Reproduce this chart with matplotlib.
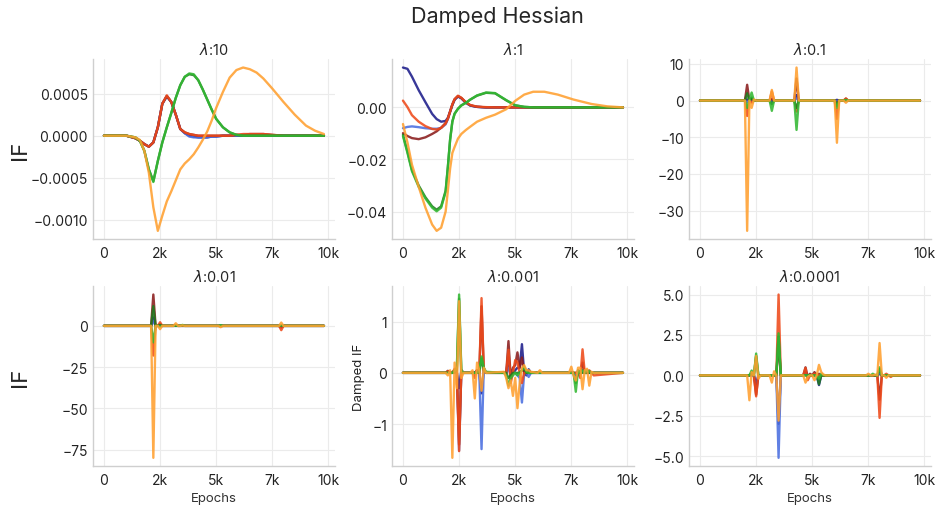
import matplotlib
matplotlib.use('Agg')
import matplotlib.pyplot as plt
from matplotlib.ticker import FuncFormatter
import seaborn as sns

sns.set_style('whitegrid')
plt.rcParams['font.family'] = ['Inter', 'DejaVu Sans']

# one colour per tracked sample, drawn in this order
line_colors = ['#1c1c8a', '#4a6ee0', '#8a1c1c', '#ee4a1a', '#1f7a1f', '#33b833', '#ffa030']

# ---- lambda = 10 ----
ep_10 = [0, 1000, 1400, 1600, 1800, 2000, 2200, 2400, 2600, 2800, 3000, 3200, 3400, 3600, 3800, 4000, 4200,
         4400, 4600, 4800, 5000, 5300, 5600, 5900, 6200, 6500, 6800, 7100, 7500, 8000, 8500, 9000, 9400, 9800]
if_10 = [
    [0, 0, -0.00003, -0.00006, -0.0001, -0.00013, -0.00008, 0.0001, 0.00038, 0.00047, 0.0004, 0.00025, 0.00008,
     0.00003, 0.0, -0.00001, -0.00002, -0.00002, -0.00002, -0.00001, -0.00001, 0, 0, 0, 0, 0, 0, 0, 0, 0, 0, 0, 0, 0],
    [0, 0, -0.00003, -0.00006, -0.0001, -0.00013, -0.00008, 0.0001, 0.00038, 0.00047, 0.0004, 0.00025, 0.00008,
     0.00003, -0.00001, -0.00002, -0.00002, -0.00002, -0.00002, -0.00001, -0.00001, 0, 0, 0, 0, 0, 0, 0, 0, 0, 0, 0, 0, 0],
    [0, 0, -0.00003, -0.00006, -0.0001, -0.00013, -0.00008, 0.0001, 0.00038, 0.00047, 0.0004, 0.00025, 0.00008,
     0.00004, 0.00002, 0.00001, 0, 0, 0, 0, 0, 0, 0, 0.00001, 0.00001, 0.00002, 0.00002, 0.00002, 0.00001, 0, 0, 0, 0, 0],
    [0, 0, -0.00003, -0.00006, -0.0001, -0.00013, -0.00008, 0.0001, 0.00038, 0.00048, 0.0004, 0.00025, 0.00008,
     0.00004, 0.00002, 0.00001, 0, 0, 0, 0, 0, 0, 0, 0.00001, 0.00002, 0.00002, 0.00002, 0.00002, 0.00001, 0, 0, 0, 0, 0],
    [0, 0, -0.00002, -0.00006, -0.00018, -0.0004, -0.00054, -0.0003, -0.00008, 0.0001, 0.00027, 0.00045, 0.0006,
     0.0007, 0.00073, 0.00072, 0.00066, 0.00055, 0.00043, 0.00031, 0.0002, 0.0001, 0.00004, 0.00001, 0, 0, 0, 0, 0, 0, 0, 0, 0, 0],
    [0, 0, -0.00002, -0.00006, -0.00018, -0.0004, -0.00055, -0.0003, -0.00008, 0.0001, 0.00027, 0.00045, 0.0006,
     0.0007, 0.00074, 0.00073, 0.00066, 0.00055, 0.00043, 0.00031, 0.0002, 0.0001, 0.00004, 0.00001, 0, 0, 0, 0, 0, 0, 0, 0, 0, 0],
    [0, 0, -0.00002, -0.00005, -0.00018, -0.00044, -0.00085, -0.00113, -0.00095, -0.00078, -0.00066, -0.00053, -0.0004,
     -0.00033, -0.00028, -0.00022, -0.00014, -0.00005, 0.00005, 0.00018, 0.00033, 0.00052, 0.00069, 0.00078, 0.00081,
     0.00079, 0.00075, 0.00068, 0.00056, 0.0004, 0.00025, 0.00012, 0.00006, 0.00002],
]

# ---- lambda = 1 ----
ep_1 = [0, 200, 400, 700, 1000, 1300, 1500, 1700, 1900, 2000, 2100, 2200, 2300, 2450, 2600, 2800, 3000, 3300,
        3700, 4100, 4600, 5000, 5400, 5800, 6300, 6900, 7600, 8400, 9100, 9800]
if_1 = [
    [0.0153, 0.0148, 0.0118, 0.0066, 0.002, -0.0025, -0.0045, -0.0055, -0.0052, -0.004, -0.0016, 0.001, 0.003,
     0.0042, 0.0035, 0.0018, 0.0007, 0.0002, 0, 0, 0, 0, 0, 0, 0, 0, 0, 0, 0, 0],
    [-0.008, -0.0075, -0.0073, -0.0076, -0.008, -0.0082, -0.0082, -0.0079, -0.0065, -0.0045, -0.0017, 0.001, 0.003,
     0.0042, 0.0035, 0.0018, 0.0007, 0.0002, 0, 0, 0, 0, 0, 0, 0, 0, 0, 0, 0, 0],
    [-0.0099, -0.011, -0.0118, -0.0122, -0.0115, -0.0102, -0.0092, -0.0078, -0.006, -0.0043, -0.0016, 0.001, 0.003,
     0.0043, 0.0036, 0.0019, 0.0008, 0.0002, 0, 0, 0, 0, 0, 0, 0, 0, 0, 0, 0, 0],
    [0.0026, 0.0001, -0.003, -0.0055, -0.0072, -0.0083, -0.0085, -0.0079, -0.0062, -0.0043, -0.0016, 0.0012, 0.0032,
     0.0045, 0.0037, 0.002, 0.0009, 0.0003, 0.0001, 0, 0, 0, 0, 0, 0, 0, 0, 0, 0, 0],
    [-0.0105, -0.017, -0.024, -0.030, -0.0345, -0.038, -0.0393, -0.038, -0.032, -0.0228, -0.0123, -0.0054, -0.0024,
     -0.0005, 0.0008, 0.0018, 0.003, 0.0045, 0.0056, 0.0054, 0.0027, 0.0008, 0.0002, 0, 0, 0, 0, 0, 0, 0],
    [-0.011, -0.0175, -0.0245, -0.0305, -0.035, -0.0385, -0.0399, -0.0385, -0.0325, -0.023, -0.0125, -0.0055, -0.0025,
     -0.0006, 0.0007, 0.0017, 0.003, 0.0046, 0.0057, 0.0055, 0.0028, 0.0008, 0.0002, 0, 0, 0, 0, 0, 0, 0],
    [-0.0064, -0.0135, -0.022, -0.0305, -0.0385, -0.045, -0.0474, -0.0462, -0.040, -0.032, -0.0235, -0.0175, -0.0152,
     -0.012, -0.0102, -0.0087, -0.0074, -0.0055, -0.004, -0.0028, -0.0007, 0.0025, 0.0049, 0.006, 0.006, 0.0049,
     0.003, 0.0013, 0.0004, 0.0],
]

# ---- lambda = 0.1 ----
ep_01 = [0, 2000, 2100, 2200, 2300, 2400, 2500, 3100, 3200, 3300, 4200, 4300, 4400, 6000, 6100, 6200, 6400, 6500, 6600, 9800]
if_01 = [
    [0, 0, 0.3, 0, 0.2, 0, 0, 0, 0, 0, 0, 1.5, 0, 0, 0.2, 0, 0, 0, 0, 0],
    [0, 0, -0.5, 0, -0.3, 0, 0, 0, 0, 0, 0, 0.6, 0, 0, -0.3, 0, 0, 0, 0, 0],
    [0, 0, 4.3, 0, 0.4, 0, 0, 0, 0.5, 0, 0, 6.0, 0, 0, -1.0, 0, 0, 0.5, 0, 0],
    [0, 0, -4.2, 0, -0.6, 0, 0, 0, 2.5, 0, 0, -3.0, 0, 0, -5.0, 0, 0, 0.6, 0, 0],
    [0, 0, 2.0, 0, 0.8, 0, 0, 0, -1.0, 0, 0, -2.0, 0, 0, -1.5, 0, 0, 0, 0, 0],
    [0, 0, -2.0, 0, 2.2, 0, 0, 0, -2.8, 0, 0, -8.0, 0, 0, -2.0, 0, 0, 0.2, 0, 0],
    [0, 0, -35.5, 0, -2.0, 0.3, 0, 0, 2.9, 0, 0, 9.0, 0, 0, -11.5, 0, 0, -0.6, 0, 0],
]

# ---- lambda = 0.01 ----
ep_001 = [0, 2100, 2200, 2300, 2400, 2500, 2600, 3100, 3200, 3300, 3400, 3500, 3600, 5100, 5200, 5300, 7800, 7900, 8000, 9800]
if_001 = [
    [0, 0, 5.0, 0, 0, 0.3, 0, 0, 0, 0, 0, 0, 0, 0, 0, 0, 0, -0.5, 0, 0],
    [0, 0, 3.0, 0, 0, -0.3, 0, 0, 0, 0, 0, 0, 0, 0, 0, 0, 0, 0.3, 0, 0],
    [0, 0, 19.0, 0, 0, 1.0, 0, 0, 0.3, 0, 0, 0, 0, 0, 0, 0, 0, -1.0, 0, 0],
    [0, 0, -18.0, 0, 0, 2.2, 0, 0, 0.5, 0, 0, 0, 0, 0, -0.3, 0, 0, -2.6, 0, 0],
    [0, 0, 12.0, 0, 0, 0.5, 0, 0, 0, 0, 0, 0.3, 0, 0, 0.2, 0, 0, 0.3, 0, 0],
    [0, 0, -10.0, 0, 0, -0.5, 0, 0, 0.4, 0, 0, 0.6, 0, 0, 0.4, 0, 0, 0.4, 0, 0],
    [0, 0, -80.0, 0, 0, -2.0, 0, 0, 1.6, 0, 0, 0.3, 0, 0, -0.8, 0, 0, 2.0, 0, 0],
]

# ---- lambda = 0.001 ----
ep_0001 = [0, 1900, 2000, 2100, 2200, 2300, 2400, 2500, 2600, 2700,
           3000, 3100, 3200, 3300, 3400, 3500, 3600, 3700,
           4500, 4600, 4700, 4800, 4900, 5000, 5100, 5200, 5300, 5400, 5500, 5600, 5700,
           6000, 6100, 6200,
           7400, 7500, 7600, 7700, 7800, 7900, 8000, 8100, 8200, 8300, 8400, 8500, 9800]
if_0001 = [
    [0, 0, 0.02, 0, 0, 0.05, 0, -0.3, 0.05, 0,
     0, 0, 0, 0.05, 0, -0.4, 0.05, 0,
     0, 0, 0.3, -0.1, 0, 0.05, 0.1, 0.1, 0.56, 0, -0.05, 0.07, 0,
     0, 0, 0,
     0, 0, 0, -0.05, 0, 0, 0.05, 0, 0, 0, 0, 0, 0],
    [0, 0, 0, 0, 0, 0.05, 0, -1.52, 0.05, 0,
     0, 0, 0, 0.05, 0, -1.49, 0.1, 0,
     0, 0, 0.1, -0.05, 0, 0, -0.05, -0.1, -0.58, 0, 0, -0.08, 0,
     0, 0, 0,
     0, 0, 0, -0.05, 0, 0, 0.03, 0, 0, 0, 0, 0, 0],
    [0, 0, 0.04, 0, 0, 0.05, 0, -1.4, 0.02, 0,
     0, 0, 0, 0.05, 0, 1.3, 0.05, 0,
     0, 0, 0.62, -0.1, 0.1, 0.15, 0.4, 0.1, 0.3, 0, 0, 0, 0,
     0, 0, 0,
     0, 0, 0, 0, 0, 0, 0.2, 0, 0, 0, 0, 0, 0],
    [0, 0, 0.03, 0, 0, 0.08, 0.03, -1.53, 0.05, 0,
     0, 0, -0.1, 0.05, 0, 1.46, 0.05, 0,
     0, 0, 0.45, -0.2, 0, 0.25, 0.2, 0, -0.2, 0, 0, 0, 0,
     0, 0, 0,
     0, 0, 0, 0, 0, -0.1, 0.46, 0, 0, 0.05, 0, -0.05, 0],
    [0, 0, 0, 0, 0, 0, 0.05, 1.45, 0, 0,
     0, 0, 0, 0, 0, 0.28, 0.05, 0,
     0, 0, -0.1, -0.05, 0, 0, 0, 0, 0.05, 0.1, 0, 0, 0,
     0, 0, 0,
     0, 0, 0, -0.2, 0.05, 0, 0, 0, 0, 0, 0, 0, 0],
    [0, 0, 0, 0, 0, 0.05, 0.1, 1.53, 0.05, 0,
     0, 0, 0, 0, 0.05, 0.32, 0.1, 0.02,
     0, -0.05, -0.25, -0.1, -0.05, 0, -0.05, 0, 0.05, 0.12, 0.02, 0, 0,
     0, 0, 0,
     0, 0, 0, -0.37, 0.05, 0, 0.05, 0, 0.05, 0.03, 0, 0, 0],
    [0, 0, -0.05, 0.05, -1.66, 0.2, -0.3, 1.4, -0.1, 0,
     0, 0.05, -0.5, 0.2, 0.05, -0.35, 0.1, 0,
     0.02, -0.1, -0.3, -0.15, -0.45, -0.1, -0.69, -0.2, 0.1, 0.15, 0.05, 0.05, 0.02,
     0, 0.05, 0,
     0, 0.12, -0.05, -0.15, 0.1, 0.1, -0.32, 0.05, 0.08, -0.25, 0.02, 0, 0],
]

# ---- lambda = 0.0001 ----
ep_00001 = [0, 2100, 2200, 2300, 2400, 2500, 2600, 2700,
            3100, 3200, 3300, 3400, 3500, 3600,
            4600, 4700, 4800, 4900, 5000, 5100, 5200, 5300, 5400, 5500, 5600,
            7400, 7500, 7600, 7700, 7800, 7900, 8000, 8100, 8200, 8300, 8400, 8500, 8600, 9800]
if_00001 = [
    [0, 0, 0, 0, 0, -0.6, 0, 0,
     0, 0, 0, 0, -3.0, 0,
     0, 0.2, 0, 0, 0, 0, 0, -0.6, 0, 0, 0,
     0, 0, 0, 0, 0, 0, 0.1, 0, 0, 0, 0, 0, 0, 0],
    [0, 0, 0, 0, 0, -0.8, 0, 0,
     0, 0, 0, 0, -5.1, 0,
     0, 0.1, 0, 0, 0, 0, 0, -0.3, 0, 0, 0,
     0, 0, 0, 0, 0, 0, 0.2, 0, 0, 0, 0, 0, 0, 0],
    [0, 0, 0, 0.1, 0, -1.2, 0, 0,
     0, 0, 0, 0, 2.0, 0,
     0, 0.5, -0.1, 0.1, 0, 0.2, 0, 0.1, 0, 0, 0,
     0, 0, 0, 0, 0, 0, -1.5, 0, 0, 0, 0, 0, 0, 0],
    [0, 0, 0, 0.1, 0, -1.3, 0, 0,
     0, 0, 0, 0, 5.0, 0,
     0, 0.45, -0.3, 0, 0, 0.1, 0, 0, 0, 0, 0,
     0, 0, 0, 0, 0, 0, -2.63, 0, 0, 0.1, 0, -0.1, 0, 0],
    [0, 0, 0, 0.1, 0, 1.2, 0, 0,
     0, 0, 0, 0, 2.4, 0,
     0, 0, 0, 0, 0, 0, 0, -0.55, 0, 0, 0,
     0, 0, 0, 0, 0, 0, 0.4, 0, 0, 0, 0, 0, 0, 0],
    [0, 0, 0, 0.3, 0, 1.35, 0, 0,
     0, 0, 0, 0, 2.6, 0,
     0, 0, 0, 0, 0, 0, 0, -0.2, 0.1, 0, 0,
     0, 0, 0, 0.1, 0, 0, 0.5, 0, 0, 0, 0, 0, 0, 0],
    [0, 0, -1.54, 0.2, 0, 1.2, -0.2, 0,
     0, -0.45, 0.25, 0, -2.8, 0,
     0, -0.45, -0.1, 0, 0, -0.3, 0, 0.65, 0.2, 0.05, 0,
     0, 0.1, 0, 0, 0.05, 0, 2.0, 0, 0, -0.15, 0, 0, 0, 0],
]

panels = [
    (r'$\lambda$:10', ep_10, if_10, [-0.001, -0.0005, 0, 0.0005], '%.4f'),
    (r'$\lambda$:1', ep_1, if_1, [-0.04, -0.02, 0], '%.2f'),
    (r'$\lambda$:0.1', ep_01, if_01, [-30, -20, -10, 0, 10], '%d'),
    (r'$\lambda$:0.01', ep_001, if_001, [-75, -50, -25, 0], '%d'),
    (r'$\lambda$:0.001', ep_0001, if_0001, [-1, 0, 1], '%d'),
    (r'$\lambda$:0.0001', ep_00001, if_00001, [-5, -2.5, 0, 2.5, 5], '%.1f'),
]
x_ticks = [0, 2500, 5000, 7500, 10000]


def epoch_label(v, pos):
    return '0' if v == 0 else '{}k'.format(int(v / 1000))


def make_fmt(fmt):
    return FuncFormatter(lambda v, pos: (fmt % v).replace('-', '\u2212'))


fig = plt.figure(figsize=(9.4, 5.06), dpi=100)
fig.text(0.529, 0.966, 'Damped Hessian', ha='center', va='center', fontsize=15.5)

col_left = [0.0989, 0.4170, 0.7330]
row_bottom = [0.5257, 0.0771]
width, height = 0.2574, 0.3550

for i, (title, ep, vals, yt, fmt) in enumerate(panels):
    r, c = divmod(i, 3)
    ax = fig.add_axes([col_left[c], row_bottom[r], width, height])
    for color, ys in zip(line_colors, vals):
        ax.plot(ep, ys, color=color, lw=1.7, alpha=0.88)
    ax.set_title(title, fontsize=10.5, pad=4)
    ax.set_xticks(x_ticks)
    ax.xaxis.set_major_formatter(FuncFormatter(epoch_label))
    ax.set_yticks(yt)
    ax.yaxis.set_major_formatter(make_fmt(fmt))
    ax.tick_params(axis='both', labelsize=10, colors='#222222', length=0)
    ax.tick_params(axis='x', pad=5)
    ax.grid(color='#ebebeb', lw=0.8)
    for side in ['top', 'right']:
        ax.spines[side].set_visible(False)
    for side in ['left', 'bottom']:
        ax.spines[side].set_color('#cfcfcf')
        ax.spines[side].set_linewidth(1.0)
    if c == 0:
        ax.set_ylabel('IF', fontsize=16)
        ax.yaxis.set_label_coords(-0.26, 0.5)
    if r == 1:
        ax.set_xlabel('Epochs', fontsize=9.5, color='#333333')
        ax.xaxis.set_label_coords(0.5, -0.145)
    if r == 1 and c == 1:
        ax.set_ylabel('Damped IF', fontsize=9.5, color='#222222')
        ax.yaxis.set_label_coords(-0.11, 0.5)

fig.savefig('out.png', dpi=100)
